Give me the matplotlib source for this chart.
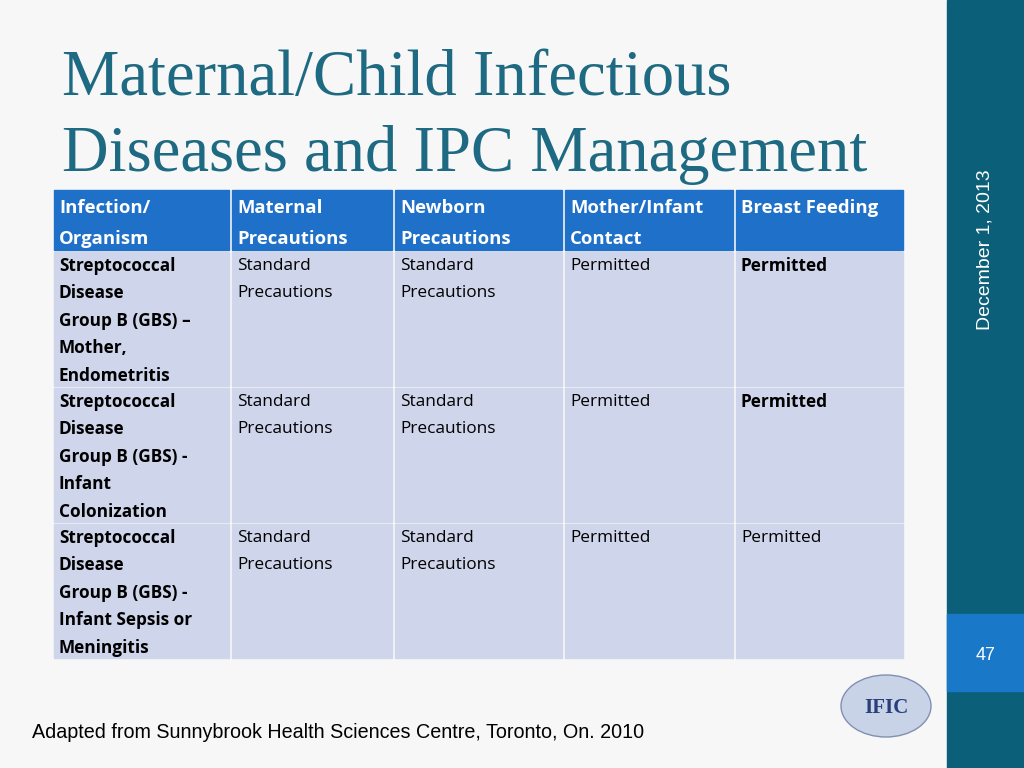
import matplotlib
matplotlib.use("Agg")
import matplotlib.pyplot as plt
from matplotlib.patches import Rectangle, Ellipse

title_lines = ["Maternal/Child Infectious", "Diseases and IPC Management"]
headers = ["Infection/\nOrganism", "Maternal\nPrecautions", "Newborn\nPrecautions",
           "Mother/Infant\nContact", "Breast Feeding"]
organisms = ["Streptococcal\nDisease\nGroup B (GBS) –\nMother,\nEndometritis",
             "Streptococcal\nDisease\nGroup B (GBS) -\nInfant\nColonization",
             "Streptococcal\nDisease\nGroup B (GBS) -\nInfant Sepsis or\nMeningitis"]
maternal = ["Standard\nPrecautions"] * 3
newborn = ["Standard\nPrecautions"] * 3
contact = ["Permitted"] * 3
breast = ["Permitted"] * 3
breast_bold = [True, True, False]
date_text = "December 1, 2013"
page = "47"
footer = "Adapted from Sunnybrook Health Sciences Centre, Toronto, On. 2010"

fig = plt.figure(figsize=(10.24, 7.68), dpi=100)
ax = fig.add_axes([0, 0, 1, 1])
ax.set_xlim(0, 1024); ax.set_ylim(768, 0); ax.axis("off")
fig.patch.set_facecolor("#f7f7f7")

# sidebar
ax.add_patch(Rectangle((947, 0), 77, 768, color="#0b5f78", zorder=1))
ax.add_patch(Rectangle((947, 614), 77, 77, color="#1a78c8", zorder=2))
ax.text(986, 655, page, color="white", fontsize=13, ha="center", va="center",
        family="Liberation Sans", zorder=3)
ax.text(985, 250, date_text, color="white", fontsize=14, rotation=90, ha="center",
        va="center", family="Liberation Sans", zorder=3)

# title
for i, t in enumerate(title_lines):
    ax.text(62, 95 + i * 76, t, color="#1d6a82", fontsize=46.5, family="Liberation Serif",
            ha="left", va="baseline")

# table
xs = [52, 230, 393, 563, 734, 904]
header_y = (190, 250)
row_ys = [(252, 386), (388, 522), (524, 658)]
g = 1.5
for c in range(5):
    ax.add_patch(Rectangle((xs[c] + g, header_y[0]), xs[c + 1] - xs[c] - 2 * g,
                           header_y[1] - header_y[0], color="#1f70c8", zorder=2))
    for i, line in enumerate(headers[c].split("\n")):
        ax.text(xs[c] + 7, 208 + i * 31, line, color="white", fontsize=13.3,
                fontweight="bold", family="Open Sans", va="center", zorder=3)
cols = [organisms, maternal, newborn, contact, breast]
for r, (y0, y1) in enumerate(row_ys):
    for c in range(5):
        ax.add_patch(Rectangle((xs[c] + g, y0), xs[c + 1] - xs[c] - 2 * g, y1 - y0,
                               color="#cfd5ea", zorder=2))
        bold = c == 0 or (c == 4 and breast_bold[r])
        for i, line in enumerate(cols[c][r].split("\n")):
            ax.text(xs[c] + 7, y0 + 14 + i * 27.4, line, color="black", fontsize=12.4,
                    fontweight="bold" if bold else "normal", family="Open Sans",
                    va="center", zorder=3)

ax.text(32, 733, footer, fontsize=14.2, family="Liberation Sans", va="center")

# logo
ax.add_patch(Ellipse((886, 706), 90, 62, facecolor="#c9d3e8", edgecolor="#8090b0", zorder=2))
ax.text(886, 708, "IFIC", fontsize=15, fontweight="bold", family="Liberation Serif",
        color="#2a3f7a", ha="center", va="center", zorder=3)

fig.savefig("out.png", dpi=100, facecolor=fig.get_facecolor())
